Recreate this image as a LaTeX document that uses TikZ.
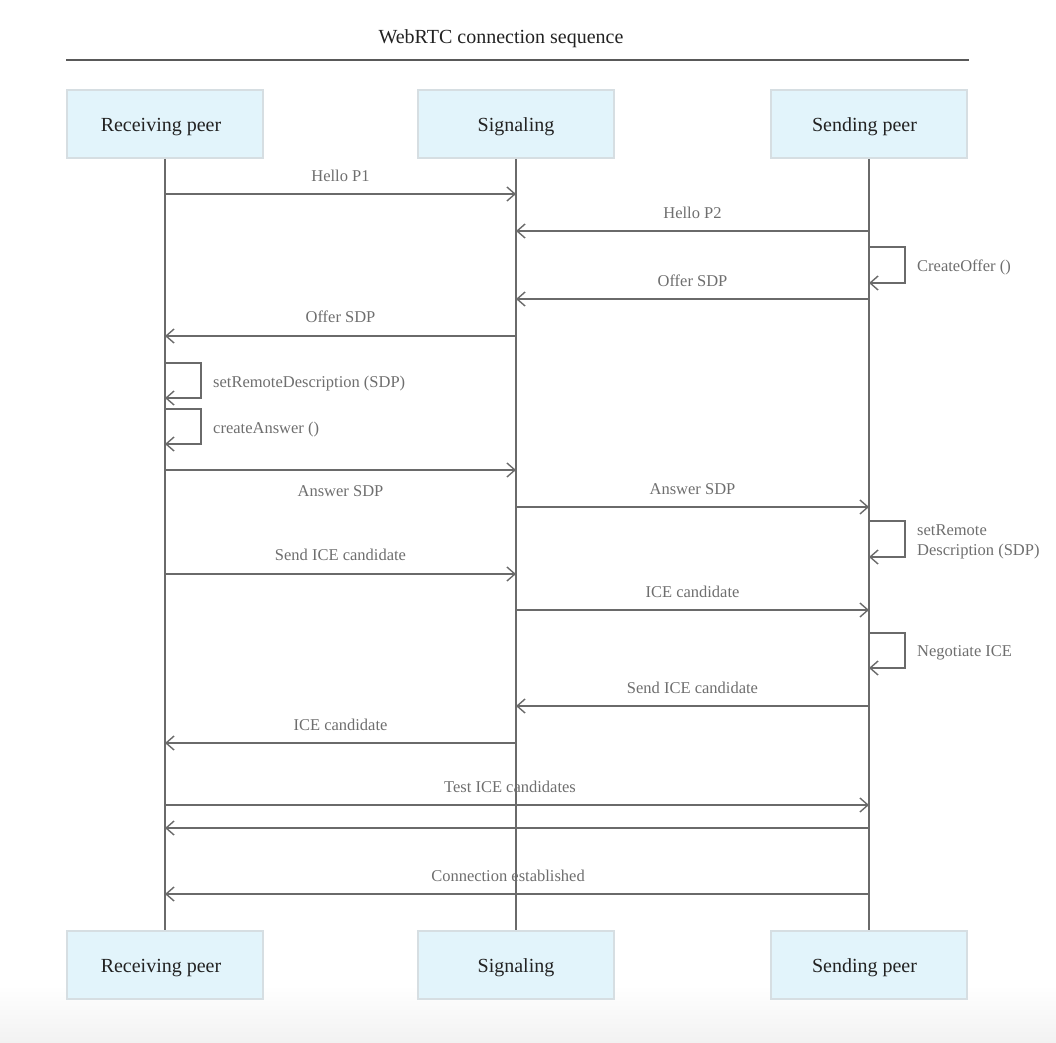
\documentclass[tikz,border=0pt]{standalone}
\usepackage{fontspec}
\setmainfont{Liberation Serif}
\usetikzlibrary{arrows.meta}
\definecolor{boxfill}{HTML}{E2F4FB}
\definecolor{boxline}{HTML}{D6DEE2}
\definecolor{wire}{HTML}{6A6A6A}
\definecolor{msgtext}{HTML}{6E6E6E}
\definecolor{headtext}{HTML}{222222}
\tikzset{
  actor/.style={draw=boxline, line width=1.5pt, fill=boxfill, minimum width=196pt,
    minimum height=68pt, inner sep=0pt, text height=18pt, text depth=4pt,
    text=headtext, font=\fontsize{20}{24}\selectfont},
  lifeline/.style={draw=wire, line width=1.4pt},
  msg/.style={draw=wire, line width=1.4pt, -{Straight Barb[length=8pt,width=14pt,line width=1.4pt]}},
  msglabel/.style={text=msgtext, font=\fontsize{16.5}{19.5}\selectfont, inner sep=0pt},
}
\newcommand{\selfloop}[3]{% lifeline node, top y, bottom y
  \draw[msg] (#1 |- 0,#2) -- ++(36,0) |- (#1 |- 0,#3);}
% participant name, nudged sideways inside its box
\newcommand{\actorname}[2]{\hspace*{#1}#2}
\begin{document}
\begin{tikzpicture}[x=1pt, y=-1pt]
\useasboundingbox (0,0) rectangle (1056,1042);
\shade[top color=white, bottom color=black!5] (0,985) rectangle (1056,1042);

% title and rule
\node[text=headtext, font=\fontsize{20}{24}\selectfont] (title) at (501,39) {WebRTC connection sequence};
\coordinate (ruleL) at (66,60);
\coordinate (ruleR) at (969,60);
\draw[draw=black!65, line width=1.5pt] (ruleL) -- (ruleR);

% participants
\node[actor] (rt) at (165,124) {\actorname{-8pt}{Receiving peer}};
\node[actor] (st) at (516,124) {\actorname{0pt}{Signaling}};
\node[actor] (pt) at (869,124) {\actorname{-9pt}{Sending peer}};
\node[actor] (rb) at (165,965) {\actorname{-8pt}{Receiving peer}};
\node[actor] (sb) at (516,965) {\actorname{0pt}{Signaling}};
\node[actor] (pb) at (869,965) {\actorname{-9pt}{Sending peer}};

\draw[lifeline] (rt.south) -- (rb.north);
\draw[lifeline] (st.south) -- (sb.north);
\draw[lifeline] (pt.south) -- (pb.north);

% messages
\draw[msg] (rt |- 0,194) -- node[msglabel, above=12pt] {Hello P1} (st |- 0,194);
\draw[msg] (pt |- 0,231) -- node[msglabel, above=12pt] {Hello P2} (st |- 0,231);
\selfloop{pt}{247}{283}
\node[msglabel, anchor=west] (co) at (917,267) {CreateOffer ()};
\draw[msg] (pt |- 0,299) -- node[msglabel, above=12pt] {Offer SDP} (st |- 0,299);
\draw[msg] (st |- 0,336) -- node[msglabel, above=13pt] {Offer SDP} (rt |- 0,336);
\selfloop{rt}{363}{398}
\node[msglabel, anchor=west] (srd) at (213,384) {setRemoteDescription (SDP)};
\selfloop{rt}{409}{444}
\node[msglabel, anchor=west] (ca) at (213,430) {createAnswer ()};
\draw[msg] (rt |- 0,470) -- node[msglabel, below=15pt] {Answer SDP} (st |- 0,470);
\draw[msg] (st |- 0,507) -- node[msglabel, above=12pt] {Answer SDP} (pt |- 0,507);
\selfloop{pt}{521}{557}
\node[msglabel, anchor=west, align=left] (srd2) at (917,542) {setRemote\\Description (SDP)};
\draw[msg] (rt |- 0,574) -- node[msglabel, above=13pt] {Send ICE candidate} (st |- 0,574);
\draw[msg] (st |- 0,610) -- node[msglabel, above=12pt] {ICE candidate} (pt |- 0,610);
\selfloop{pt}{633}{668}
\node[msglabel, anchor=west] (ni) at (917,653) {Negotiate ICE};
\draw[msg] (pt |- 0,706) -- node[msglabel, above=12pt] {Send ICE candidate} (st |- 0,706);
\draw[msg] (st |- 0,743) -- node[msglabel, above=12pt] {ICE candidate} (rt |- 0,743);
\draw[msg] (rt |- 0,805) -- node[msglabel, above=12pt, xshift=-7pt] {Test ICE candidates} (pt |- 0,805);
\draw[msg] (pt |- 0,828) -- (rt |- 0,828);
\draw[msg] (pt |- 0,894) -- node[msglabel, above=12pt, xshift=-9pt] {Connection established} (rt |- 0,894);
\end{tikzpicture}
\end{document}
